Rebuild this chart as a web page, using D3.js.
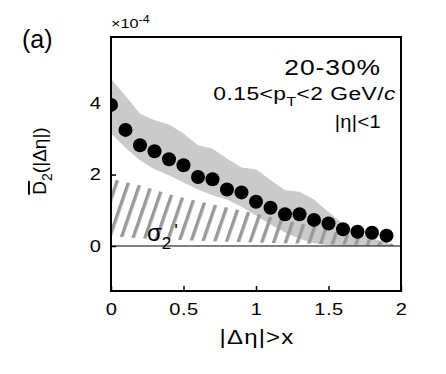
<!DOCTYPE html>
<html>
<head>
<meta charset="utf-8">
<script src="https://cdn.jsdelivr.net/npm/d3@7"></script>
<style>
    body { margin: 0; background: #fff; }
    text { font-family: "Liberation Sans", Arial, sans-serif; fill: #000; }
</style>
</head>
<body>
<svg id="chart" width="446" height="374"></svg>
<script>
// measured points
var etaX = [0, 0.1, 0.2, 0.3, 0.4, 0.5, 0.6, 0.7, 0.8, 0.9, 1.0, 1.1, 1.2, 1.3, 1.4, 1.5, 1.6, 1.7, 1.8, 1.9];
var d2Vals = [3.95, 3.25, 2.82, 2.65, 2.43, 2.26, 1.93, 1.87, 1.58, 1.50, 1.24, 1.07, 0.89, 0.89, 0.73, 0.63, 0.47, 0.40, 0.37, 0.29];

// gray band
var bandX = [0, 0.1, 0.2, 0.3, 0.4, 0.5, 0.6, 0.7, 0.8, 0.9, 1.0, 1.1, 1.2, 1.3, 1.4, 1.5, 1.6, 1.7, 1.8, 1.9, 1.95];
var bandHi = [4.68, 4.2, 3.7, 3.52, 3.4, 3.15, 2.82, 2.72, 2.45, 2.2, 2.15, 1.85, 1.56, 1.52, 1.3, 0.95, 0.62, 0.4, 0.22, 0.1, 0];
var bandLo = [3.15, 2.75, 2.4, 2.15, 1.98, 1.78, 1.58, 1.42, 1.3, 1.1, 0.85, 0.6, 0.38, 0.2, 0.08, 0.02, 0, 0, 0, 0, 0];

// hatched sigma2' region
var hatchX = [0, 0.2, 0.4, 0.6, 0.8, 1.0, 1.2, 1.4, 1.6, 1.8, 1.95];
var hatchHi = [1.88, 1.7, 1.45, 1.25, 1.08, 0.9, 0.72, 0.55, 0.33, 0.16, 0.05];
var hatchLo = [0.27, 0.22, 0.18, 0.15, 0.12, 0.1, 0.08, 0.06, 0.04, 0.02, 0];

var xTicks = [0, 0.5, 1, 1.5, 2];
var yTicks = [0, 2, 4];

(function () {
    var svg = d3.select("#chart"),
        left = 111, right = 401, top = 37, bottom = 291;

    var x = d3.scaleLinear().domain([0, 2]).range([left, right]);
    var y = d3.scaleLinear().domain([-1.26, 5.85]).range([bottom, top]);

    // text in the original is set wide: slight stretch plus letter spacing
    function label(px, py, size, anchor, sx, ls) {
        return svg.append("g")
            .attr("transform", "translate(" + px + "," + py + ") scale(" + sx + ",1)")
            .append("text")
            .attr("text-anchor", anchor)
            .style("font-size", size + "px")
            .style("letter-spacing", (ls || 0) + "px");
    }

    var defs = svg.append("defs");
    var pat = defs.append("pattern")
        .attr("id", "hatch")
        .attr("patternUnits", "userSpaceOnUse")
        .attr("width", 11.2)
        .attr("height", 10)
        .attr("patternTransform", "rotate(19)");
    pat.append("rect")
        .attr("x", 0).attr("y", 0)
        .attr("width", 3.4).attr("height", 10)
        .attr("fill", "#999");

    defs.append("clipPath").attr("id", "plotClip")
        .append("rect")
        .attr("x", left).attr("y", top)
        .attr("width", right - left).attr("height", bottom - top);

    var g = svg.append("g").attr("clip-path", "url(#plotClip)");

    var band = bandX.map(function (d, i) { return [d, bandLo[i], bandHi[i]]; });
    var area = d3.area()
        .x(function (d) { return x(d[0]); })
        .y0(function (d) { return y(d[1]); })
        .y1(function (d) { return y(d[2]); });

    g.append("path")
        .datum(band)
        .attr("d", area)
        .attr("fill", "#cacaca");

    var hatch = hatchX.map(function (d, i) { return [d, hatchLo[i], hatchHi[i]]; });
    g.append("path")
        .datum(hatch)
        .attr("d", area)
        .attr("fill", "url(#hatch)");

    // zero line
    g.append("line")
        .attr("x1", left).attr("x2", right)
        .attr("y1", y(0)).attr("y2", y(0))
        .attr("stroke", "#000")
        .attr("stroke-width", 1);

    g.selectAll(".dot")
        .data(etaX)
        .enter().append("circle")
        .attr("class", "dot")
        .attr("cx", function (d) { return x(d); })
        .attr("cy", function (d, i) { return y(d2Vals[i]); })
        .attr("r", 7)
        .attr("fill", "#000");

    // axes, ticks pointing inward
    var xAxis = svg.append("g")
        .attr("transform", "translate(0," + bottom + ")")
        .call(d3.axisBottom(x).tickValues(xTicks).tickSizeInner(-5).tickSizeOuter(0).tickPadding(12)
            .tickFormat(function (d) { return d; }));
    var yAxis = svg.append("g")
        .attr("transform", "translate(" + left + ",0)")
        .call(d3.axisLeft(y).tickValues(yTicks).tickSizeInner(-5).tickSizeOuter(0).tickPadding(8.5));

    [xAxis, yAxis].forEach(function (a) {
        a.select(".domain").remove();
        a.selectAll("line").attr("stroke", "#000").attr("stroke-width", 1.5);
        a.selectAll("text")
            .style("font-size", "17px")
            .style("font-family", "Liberation Sans, Arial, sans-serif")
            .attr("fill", "#000")
            .attr("transform", "scale(1.18,1)");
    });
    xAxis.selectAll("text").style("letter-spacing", "0.5px");

    svg.append("rect")
        .attr("x", left).attr("y", top)
        .attr("width", right - left).attr("height", bottom - top)
        .attr("fill", "none")
        .attr("stroke", "#000")
        .attr("stroke-width", 2);

    // labels
    label(22, 48, 25, "start", 1).text("(a)");

    var mult = label(111, 28, 13, "start", 1.25).text("\u00d710");
    mult.append("tspan").attr("dy", -5).style("font-size", "10px").text("-4");

    label(381, 75, 22, "end", 1.2, 0.8).text("20-30%");

    var pt = label(396, 100, 19, "end", 1.2, 0.4);
    pt.append("tspan").text("0.15<p");
    pt.append("tspan").attr("dy", 6).style("font-size", "13px").text("T");
    pt.append("tspan").attr("dy", -6).text("<2 GeV/");
    pt.append("tspan").style("font-style", "italic").text("c");

    label(381, 128, 17.5, "end", 1.15, 0.3).text("|\u03b7|<1");

    var sig = label(147, 241, 24, "start", 1);
    sig.append("tspan").text("\u03c3");
    sig.append("tspan").attr("dy", 8).style("font-size", "17px").text("2");
    sig.append("tspan").attr("dy", -12).attr("dx", 3).style("font-size", "19px").text("'");

    label((left + right) / 2 + 1, 344, 20, "middle", 1.2, 1).text("|\u0394\u03b7|>x");

    var yl = svg.append("text")
        .attr("transform", "translate(46,161) rotate(-90)")
        .attr("text-anchor", "middle")
        .style("font-size", "19px");
    yl.append("tspan").style("text-decoration", "overline").text("D");
    yl.append("tspan").attr("dy", 6).style("font-size", "14px").text("2");
    yl.append("tspan").attr("dy", -6).text("(|\u0394\u03b7|)");
})();
</script>
</body>
</html>
